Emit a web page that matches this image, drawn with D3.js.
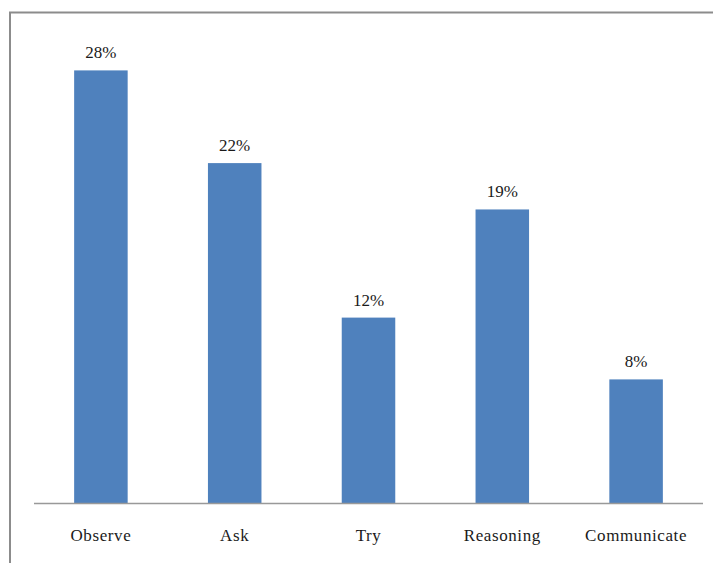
<!DOCTYPE html>
<html>
<head>
<meta charset="utf-8">
<script src="https://cdn.jsdelivr.net/npm/d3@7"></script>
<style>
  body { margin: 0; background: #fff; }
  text { font-family: "Liberation Serif", "Times New Roman", serif; fill: #1a1a1a; }
</style>
</head>
<body>
<div id="chart"></div>
<script>
const categories = ["Observe", "Ask", "Try", "Reasoning", "Communicate"]
const percents = [28, 22, 12, 19, 8]
const valueLabels = ["28%", "22%", "12%", "19%", "8%"]

const width = 713
const height = 563

const svg = d3.select("#chart")
    .append("svg")
    .attr("width", width)
    .attr("height", height)

// outer frame, runs off the right and bottom edges
svg.append("rect")
    .attr("x", 10)
    .attr("y", 12.5)
    .attr("width", 720)
    .attr("height", 580)
    .attr("fill", "none")
    .attr("stroke", "#8c8c8c")
    .attr("stroke-width", 2)

const x = d3.scaleBand()
    .domain(categories)
    .range([34, 703])
    .paddingInner(0.6)
    .paddingOuter(0.3)

const y = d3.scaleLinear()
    .domain([0, 30])
    .range([503, 39.5])

const data = categories.map((c, i) => ({ cat: c, val: percents[i], label: valueLabels[i] }))

svg.selectAll(".bar")
    .data(data)
    .enter().append("rect")
    .attr("class", "bar")
    .attr("x", d => x(d.cat))
    .attr("y", d => y(d.val))
    .attr("width", x.bandwidth())
    .attr("height", d => y(0) - y(d.val))
    .attr("fill", "#4f81bd")

svg.selectAll(".val")
    .data(data)
    .enter().append("text")
    .attr("class", "val")
    .attr("x", d => x(d.cat) + x.bandwidth() / 2)
    .attr("y", d => y(d.val) - 12)
    .attr("text-anchor", "middle")
    .style("font-size", "17px")
    .text(d => d.label)

// category axis
const xAxis = svg.append("g")
    .attr("transform", "translate(0," + y(0) + ")")
    .call(d3.axisBottom(x).tickSize(0).tickPadding(0))
xAxis.select(".domain")
    .attr("stroke", "#999")
    .attr("stroke-width", 1.5)
    .attr("d", "M34,0.5H703")
xAxis.selectAll("text")
    .attr("dy", "38px")
    .style("font-size", "17px")
    .style("letter-spacing", "0.6px")
    .style("fill", "#1a1a1a")
</script>
</body>
</html>
